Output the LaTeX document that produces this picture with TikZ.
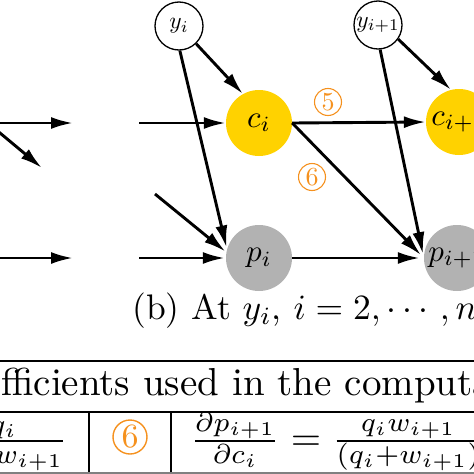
\documentclass[tikz,border=0pt]{standalone}
\usepackage{amsmath}
\usepackage{graphicx}
\usetikzlibrary{arrows.meta}
\definecolor{cgold}{RGB}{255,210,0}
\definecolor{pgray}{RGB}{178,178,178}
\definecolor{corange}{RGB}{245,145,30}
\begin{document}
\begin{tikzpicture}[x=1pt,y=-1pt,
 arr/.style={line width=2.9pt,-{Latex[length=22pt,width=12pt]}},
 ynode/.style={circle,draw,line width=1.3pt,minimum size=48pt,inner sep=0pt},
 cnode/.style={circle,fill=cgold,minimum size=66pt,inner sep=0pt},
 pnode/.style={circle,fill=pgray,minimum size=66pt,inner sep=0pt},
 numsmall/.style={circle,draw=corange,text=corange,line width=1.1pt,minimum size=27pt,inner sep=0pt},
 numbig/.style={circle,draw=corange,text=corange,line width=1.4pt,minimum size=34pt,inner sep=0pt},
 txt/.style={inner sep=0pt}
]
\useasboundingbox (0,0) rectangle (474,474);
\clip (0,0) rectangle (474,474);
% nodes
\node[ynode] (y1) at (179,26) {\scalebox{2.35}{$y_i$}};
\node[ynode] (y2) at (378,25) {\scalebox{2.35}{$y_{i+1}$}};
\node[cnode] (c1) at (259,123) {\scalebox{3.1}{$c_i$}};
\node[cnode] (c2) at (459,122) {\scalebox{3.1}{$c_{i+1}$}};
\node[pnode] (p1) at (259,258) {\scalebox{3.1}{$p_i$}};
\node[pnode] (p2) at (457,258) {\scalebox{3.1}{$p_{i+1}$}};
% free ends
\coordinate (a1s) at (-2,123); \coordinate (a1e) at (73,123);
\coordinate (a2s) at (-6,128); \coordinate (a2e) at (42,168);
\coordinate (a3s) at (-2,258); \coordinate (a3e) at (73,258);
\coordinate (a4s) at (139,123);
\coordinate (a5s) at (139,258);
\coordinate (a6s) at (155,194);
\coordinate (ytop) at (382,-40);
% arrows
\draw[arr] (a1s) -- (a1e);
\draw[arr] (a2s) -- (a2e);
\draw[arr] (a3s) -- (a3e);
\draw[arr] (a4s) -- (c1.west);
\draw[arr,shorten >=1pt] (a5s) -- (p1.west);
\draw[arr,shorten >=1pt] (a6s) -- (p1.170);
\draw[arr,shorten >=2pt] (y1.-88) -- (p1.165);
\draw[arr] (y1.-46) -- (c1.119);
\draw[arr] (c1.east) -- (c2.west);
\draw[arr,shorten >=4pt] (c1.east) -- (p2.west);
\draw[arr,shorten >=4pt] (p1.east) -- (p2.west);
\draw[arr,shorten >=4pt] (y2.-85) -- (p2.west);
\draw[arr] (y2.-35) -- (c2.104);
\draw[arr] (ytop) -- (y2.north);
% labels
\node[numsmall] (n5) at (328,102) {\scalebox{2.6}{5}};
\node[numsmall] (n6) at (312,177) {\scalebox{2.6}{6}};
% caption
\node[txt,anchor=base west] (cap) at (132,319) {\scalebox{3.55}{(b) At $y_i$, $i=2,\cdots,n$}};
% table
\draw[line width=1.8pt] (-5,361) -- (480,361);
\node[txt,anchor=base west] (tcap) at (1,395) {\scalebox{3.9}{\llap{Coe}fficients used in the computation}};
\draw[line width=1.2pt] (-5,412) -- (480,412);
\draw[line width=1.2pt] (89,412) -- (89,480);
\draw[line width=1.2pt] (171,412) -- (171,480);
\draw[gray,line width=3pt] (-5,473.5) -- (480,473.5);
\node[numbig] (n6t) at (130,437) {\scalebox{3.4}{6}};
\node[txt,anchor=base east] (f1) at (68,450.5) {\scalebox{3.9}{$\frac{q_i}{q_i+w_{i+1}}$}};
\node[txt,anchor=base west] (f2) at (190.3,450.5) {\scalebox{3.9}{$\frac{\partial p_{i+1}}{\partial c_i}=\frac{q_iw_{i+1}}{(q_i+w_{i+1})}$}};
\end{tikzpicture}
\end{document}
